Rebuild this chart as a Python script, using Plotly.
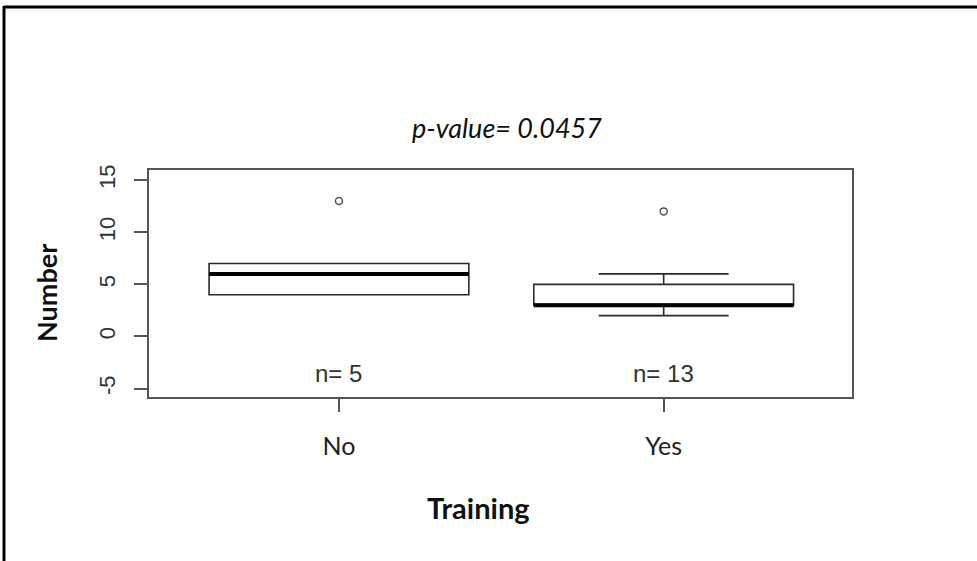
import plotly.graph_objects as go

# ---- data ----
categories = ["No", "Yes"]
positions = [1, 2]
q1 = [4, 3]
median = [6, 3]
q3 = [7, 5]
lower_whisker = [4, 2]
upper_whisker = [7, 6]
outliers = [[13], [12]]
n_counts = [5, 13]
p_value = 0.0457
y_ticks = [-5, 0, 5, 10, 15]
y_tick_labels = ["-5", "0", "5", "10", "15"]

# ---- layout constants ----
W, H = 977, 561
ML, MR, MT, MB = 149, 125, 170, 164
PW, PH = W - ML - MR, H - MT - MB

fig = go.Figure()

for i, cat in enumerate(categories):
    fig.add_trace(go.Box(
        x=[positions[i]], q1=[q1[i]], median=[median[i]], q3=[q3[i]],
        lowerfence=[lower_whisker[i]], upperfence=[upper_whisker[i]],
        width=0.8, whiskerwidth=0.5, fillcolor="white",
        line=dict(color="#2a2a2a", width=1.6), boxpoints=False,
        showlegend=False, hoverinfo="skip", name=cat))
    # thick median line (R style)
    fig.add_trace(go.Scatter(
        x=[positions[i] - 0.4, positions[i] + 0.4], y=[median[i], median[i]],
        mode="lines", line=dict(color="black", width=4),
        showlegend=False, hoverinfo="skip"))
    fig.add_trace(go.Scatter(
        x=[positions[i]] * len(outliers[i]), y=outliers[i], mode="markers",
        marker=dict(symbol="circle-open", size=7, color="#555",
                    line=dict(width=1.5, color="#555")),
        showlegend=False, hoverinfo="skip"))

# n= labels
for i, n in enumerate(n_counts):
    fig.add_annotation(x=positions[i], y=-3.55, xref="x", yref="y",
                       text=f"n= {n}", showarrow=False,
                       xanchor="center", yanchor="middle",
                       font=dict(family="Liberation Sans, Arial", size=24, color="#333"))


def px_x(px):
    return (px - ML) / PW


def px_y(py):
    return (H - MB - py) / PH


fig.add_annotation(x=px_x(507), y=px_y(127), xref="paper", yref="paper",
                   text=f"<i>p-value= {p_value}</i>", showarrow=False,
                   xanchor="center", yanchor="middle",
                   font=dict(family="Lato", size=27, color="#111"))
fig.add_annotation(x=px_x(478), y=px_y(507), xref="paper", yref="paper",
                   text="<b>Training</b>", showarrow=False,
                   xanchor="center", yanchor="middle",
                   font=dict(family="Lato", size=29, color="#111"))
fig.add_annotation(x=px_x(46), y=px_y(293), xref="paper", yref="paper",
                   text="<b>Number</b>", showarrow=False, textangle=-90,
                   xanchor="center", yanchor="middle",
                   font=dict(family="Lato", size=27, color="#111"))

# outer frame lines (top and left)
fig.add_shape(type="line", xref="paper", yref="paper",
              x0=px_x(4), x1=px_x(W + 5), y0=px_y(7), y1=px_y(7),
              line=dict(color="black", width=3))
fig.add_shape(type="line", xref="paper", yref="paper",
              x0=px_x(4), x1=px_x(4), y0=px_y(6), y1=px_y(H + 5),
              line=dict(color="black", width=3))

fig.update_layout(
    width=W, height=H,
    margin=dict(l=ML, r=MR, t=MT, b=MB),
    plot_bgcolor="white", paper_bgcolor="white",
    xaxis=dict(range=[0.415, 2.58], tickvals=positions, ticktext=categories,
               showgrid=False, zeroline=False, showline=True, mirror=True,
               linecolor="#555", linewidth=2, ticks="outside", ticklen=13,
               tickcolor="#555", tickwidth=2, ticklabelstandoff=13,
               tickfont=dict(family="Lato", size=25, color="#222")),
    yaxis=dict(range=[-5.81, 15.97], tickvals=y_ticks, ticktext=y_tick_labels,
               showgrid=False, zeroline=False, showline=True, mirror=True,
               linecolor="#555", linewidth=2, ticks="outside", ticklen=13,
               tickcolor="#555", tickwidth=2, tickangle=-90, ticklabelstandoff=10,
               tickfont=dict(family="Liberation Sans, Arial", size=22, color="#333")),
)

fig.write_html("out.html", config={"displayModeBar": False},
               post_script="document.body.style.margin='0';document.body.style.overflow='hidden';")
